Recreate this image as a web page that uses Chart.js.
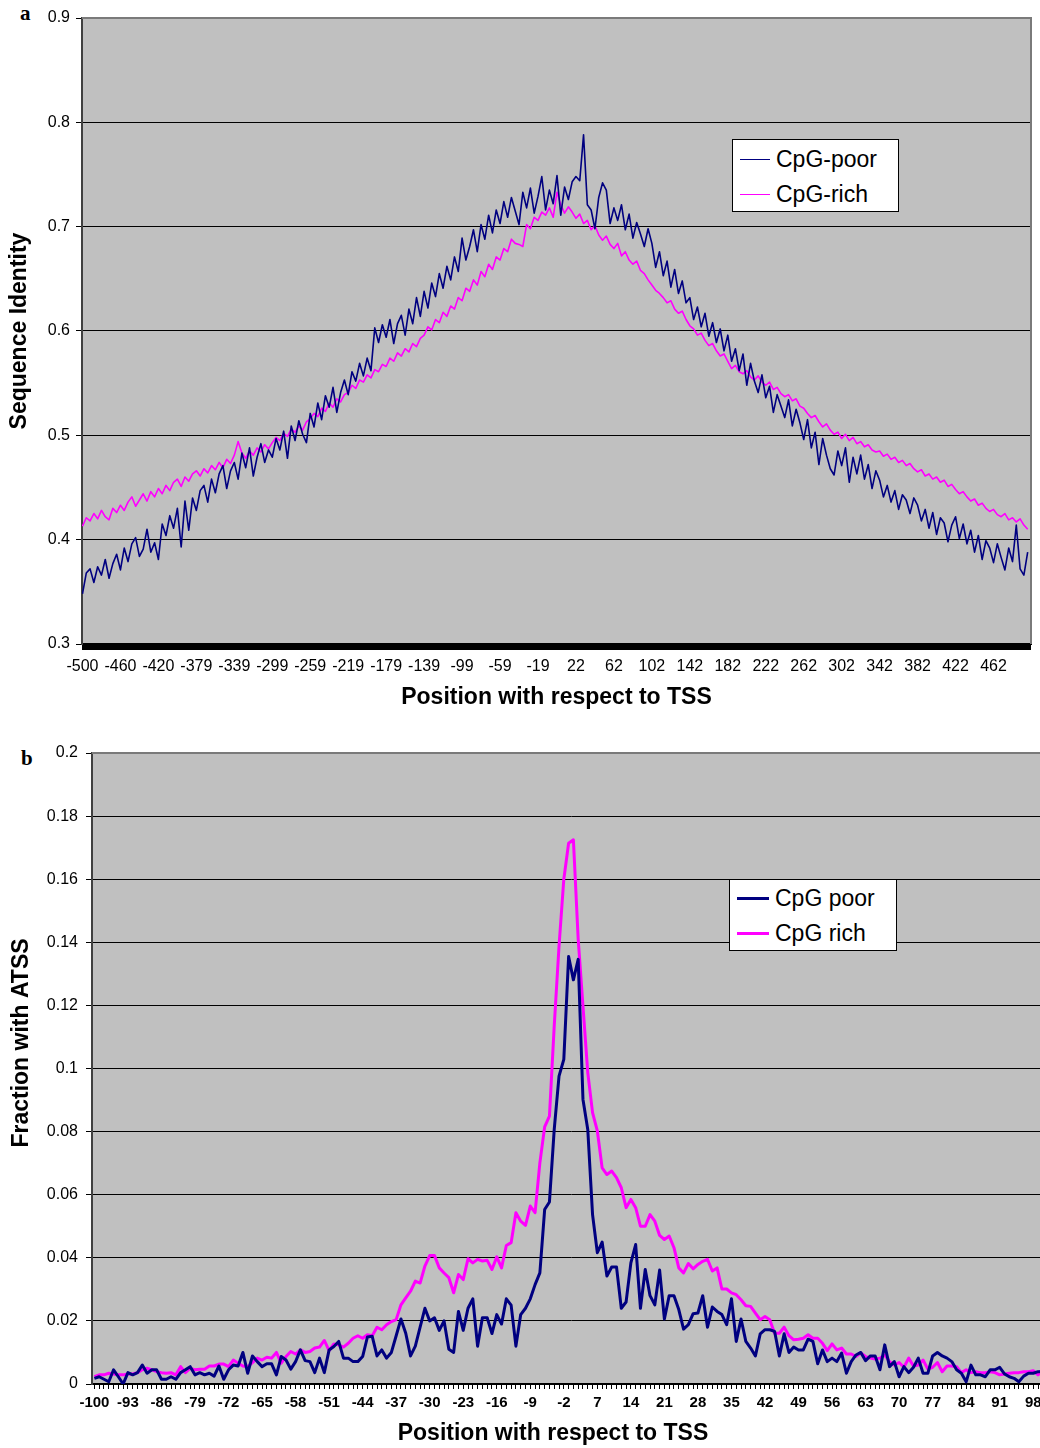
<!DOCTYPE html>
<html>
<head>
<meta charset="utf-8">
<title>Sequence identity and ATSS around the TSS</title>
<script src="https://cdn.jsdelivr.net/npm/chart.js@4.4.1/dist/chart.umd.min.js"></script>
<style>
    html, body { margin: 0; padding: 0; background: #fff; overflow: hidden; }
    body { position: relative; width: 1040px; height: 1448px; }
    canvas { position: absolute; left: 0; }
    #chartA { top: 0; }
    #chartB { top: 735px; }
    .panel-letter { position: absolute; font: bold 21px "Liberation Serif", serif; line-height: 21px; color: #000; }
    .legend { position: absolute; box-sizing: border-box; background: #fff; border: 1px solid #000;
              font: 23px "Liberation Sans", Arial, sans-serif; color: #000; }
    .legend .row { display: flex; align-items: center; height: 35px; }
    .legend .swatch { display: inline-block; margin: 0 6px 0 7px; }
</style>
</head>
<body>
<div class="panel-letter" style="left:20px; top:3px;">a</div>
<div class="panel-letter" style="left:21px; top:748px;">b</div>
<canvas id="chartA" width="1040" height="720"></canvas>
<canvas id="chartB" width="1070" height="713"></canvas>
<div id="legendA" class="legend" style="left:732px; top:139px; width:167px; height:73px; padding-top:2px;"></div>
<div id="legendB" class="legend" style="left:729px; top:879px; width:168px; height:72px; padding-top:1px;"></div>
<script>
// Panel a: 1000 position categories, every 40th one labelled
const ticksA = ['-500', '-460', '-420', '-379', '-339', '-299', '-259', '-219', '-179', '-139', '-99', '-59', '-19',
    '22', '62', '102', '142', '182', '222', '262', '302', '342', '382', '422', '462'];
const stepA = 4;

const poorA = [
    0.348, 0.368, 0.372, 0.359, 0.374, 0.366, 0.381, 0.363, 0.377, 0.386,
    0.371, 0.392, 0.379, 0.396, 0.402, 0.384, 0.391, 0.41, 0.388, 0.397,
    0.381, 0.415, 0.404, 0.423, 0.411, 0.43, 0.393, 0.437, 0.409, 0.44,
    0.428, 0.447, 0.452, 0.436, 0.458, 0.445, 0.463, 0.471, 0.449, 0.466,
    0.474, 0.458, 0.483, 0.469, 0.488, 0.461, 0.479, 0.492, 0.474, 0.486,
    0.479, 0.497, 0.486, 0.504, 0.478, 0.509, 0.495, 0.514, 0.501, 0.493,
    0.521, 0.508, 0.531, 0.515, 0.538, 0.527, 0.546, 0.522, 0.541, 0.553,
    0.539, 0.561, 0.552, 0.569, 0.557, 0.574, 0.562, 0.603, 0.589, 0.606,
    0.594, 0.611, 0.588, 0.607, 0.615, 0.596, 0.621, 0.607, 0.632, 0.614,
    0.638, 0.622, 0.646, 0.633, 0.655, 0.641, 0.662, 0.649, 0.671, 0.657,
    0.689, 0.668, 0.681, 0.697, 0.676, 0.702, 0.688, 0.711, 0.694, 0.716,
    0.703, 0.724, 0.709, 0.728, 0.715, 0.702, 0.733, 0.718, 0.737, 0.713,
    0.729, 0.748, 0.716, 0.735, 0.722, 0.749, 0.711, 0.738, 0.726, 0.743,
    0.748, 0.744, 0.788, 0.721, 0.716, 0.698, 0.728, 0.742, 0.735, 0.703,
    0.718, 0.706, 0.721, 0.697, 0.712, 0.689, 0.704, 0.693, 0.681, 0.698,
    0.684, 0.661, 0.676, 0.653, 0.667, 0.642, 0.659, 0.636, 0.648, 0.627,
    0.632, 0.611, 0.623, 0.604, 0.617, 0.595, 0.608, 0.589, 0.602, 0.581,
    0.596, 0.571, 0.583, 0.562, 0.578, 0.548, 0.569, 0.552, 0.541, 0.558,
    0.536, 0.547, 0.522, 0.539, 0.528, 0.517, 0.534, 0.509, 0.525, 0.512,
    0.496, 0.515, 0.488, 0.503, 0.472, 0.497, 0.481, 0.468, 0.462, 0.485,
    0.471, 0.488, 0.455, 0.479, 0.463, 0.481, 0.458, 0.472, 0.449, 0.466,
    0.457, 0.441, 0.452, 0.436, 0.447, 0.429, 0.443, 0.438, 0.425, 0.44,
    0.433, 0.418, 0.429, 0.411, 0.426, 0.405, 0.421, 0.416, 0.398, 0.414,
    0.422, 0.401, 0.415, 0.396, 0.409, 0.388, 0.404, 0.381, 0.399, 0.392,
    0.378, 0.396, 0.383, 0.371, 0.392, 0.379, 0.414, 0.372, 0.366, 0.388
];

const richA = [
    0.413, 0.421, 0.418, 0.425, 0.42, 0.428, 0.422, 0.419, 0.43, 0.426,
    0.433, 0.428, 0.436, 0.441, 0.432, 0.438, 0.444, 0.437, 0.446, 0.441,
    0.449, 0.444, 0.452, 0.447, 0.455, 0.458, 0.451, 0.46, 0.456, 0.463,
    0.466, 0.461, 0.468, 0.464, 0.471, 0.467, 0.474, 0.469, 0.477, 0.473,
    0.481, 0.494, 0.483, 0.478, 0.485, 0.481, 0.488, 0.484, 0.491, 0.487,
    0.493, 0.498, 0.495, 0.502, 0.499, 0.506, 0.503, 0.509, 0.505, 0.513,
    0.516, 0.521, 0.518, 0.526, 0.523, 0.531, 0.527, 0.535, 0.532, 0.539,
    0.541, 0.548, 0.545, 0.553, 0.551, 0.558, 0.555, 0.563, 0.561, 0.568,
    0.566, 0.574, 0.571, 0.579, 0.576, 0.583, 0.58, 0.588, 0.585, 0.593,
    0.596, 0.604, 0.601, 0.611, 0.608, 0.618, 0.614, 0.624, 0.621, 0.632,
    0.629, 0.641, 0.638, 0.649, 0.644, 0.657, 0.652, 0.664, 0.659, 0.671,
    0.668, 0.679, 0.676, 0.688, 0.684, 0.683, 0.681, 0.702, 0.698, 0.709,
    0.706, 0.714, 0.711, 0.718, 0.709, 0.733, 0.721, 0.713, 0.719, 0.714,
    0.708, 0.712, 0.703, 0.706, 0.697, 0.701, 0.692, 0.687, 0.691, 0.683,
    0.679, 0.684, 0.672, 0.676, 0.668, 0.664, 0.667, 0.658, 0.655, 0.649,
    0.644, 0.639, 0.636, 0.632, 0.627, 0.629, 0.621, 0.617, 0.619, 0.611,
    0.605, 0.602, 0.596, 0.598, 0.591, 0.586, 0.588, 0.581, 0.576, 0.578,
    0.571, 0.564, 0.567, 0.561, 0.559, 0.562, 0.556, 0.553, 0.557, 0.551,
    0.548, 0.551, 0.544, 0.546, 0.54, 0.537, 0.539, 0.533, 0.535, 0.528,
    0.526, 0.521, 0.517, 0.519, 0.513, 0.508, 0.511, 0.505, 0.501, 0.503,
    0.497, 0.501, 0.495, 0.498, 0.492, 0.494, 0.489, 0.491, 0.486, 0.484,
    0.485, 0.48, 0.482, 0.477, 0.479, 0.474, 0.476, 0.471, 0.473, 0.468,
    0.465, 0.467, 0.461, 0.463, 0.458, 0.46, 0.455, 0.457, 0.451, 0.453,
    0.448, 0.444, 0.446, 0.441, 0.437, 0.439, 0.433, 0.435, 0.43, 0.427,
    0.429, 0.424, 0.422, 0.425, 0.419, 0.421, 0.417, 0.42, 0.414, 0.41
];

// Panel b: 200 position categories, every 7th one labelled
const ticksB = ['-100', '-93', '-86', '-79', '-72', '-65', '-58', '-51', '-44', '-37', '-30', '-23', '-16', '-9', '-2',
    '7', '14', '21', '28', '35', '42', '49', '56', '63', '70', '77', '84', '91', '98'];

const poorB = [
    0.0018, 0.0023, 0.0015, 0.0007, 0.0045, 0.0023, 0.0, 0.0036, 0.0029, 0.0036,
    0.006, 0.0034, 0.0045, 0.0045, 0.0015, 0.0015, 0.0023, 0.0015, 0.0036, 0.0045,
    0.0055, 0.0029, 0.0036, 0.0029, 0.0034, 0.0025, 0.0057, 0.0015, 0.0045, 0.006,
    0.0057, 0.01, 0.0034, 0.0089, 0.0071, 0.0055, 0.0064, 0.0064, 0.0029, 0.0087,
    0.0076, 0.0047, 0.0071, 0.0108, 0.0074, 0.0071, 0.0036, 0.0082, 0.0036, 0.0108,
    0.0119, 0.0135, 0.0082, 0.0082, 0.0071, 0.0071, 0.0087, 0.0149, 0.0151, 0.0089,
    0.0108, 0.0082, 0.01, 0.0153, 0.0206, 0.0161, 0.0089, 0.012, 0.018, 0.024,
    0.02, 0.021, 0.017, 0.02, 0.011, 0.01, 0.023, 0.017, 0.024, 0.027,
    0.012, 0.021, 0.021, 0.016, 0.022, 0.019, 0.027, 0.025, 0.012, 0.022,
    0.024, 0.027, 0.0315, 0.0352, 0.0553, 0.0577, 0.0807, 0.0976, 0.1029, 0.1355,
    0.1281, 0.1346, 0.0902, 0.0807, 0.0537, 0.0416, 0.045, 0.0342, 0.0371, 0.0371,
    0.024, 0.026, 0.0384, 0.0442, 0.024, 0.0363, 0.028, 0.0251, 0.0361, 0.0206,
    0.028, 0.028, 0.0236, 0.0174, 0.0188, 0.0223, 0.0225, 0.028, 0.018, 0.0244,
    0.023, 0.022, 0.0188, 0.027, 0.0135, 0.0206, 0.0135, 0.0114, 0.0089, 0.0159,
    0.0172, 0.0172, 0.0167, 0.0089, 0.0159, 0.01, 0.0117, 0.0108, 0.0108, 0.0142,
    0.0135, 0.0064, 0.0108, 0.0071, 0.0082, 0.0071, 0.0098, 0.0034, 0.0071, 0.0092,
    0.01, 0.0074, 0.0089, 0.0089, 0.0045, 0.0124, 0.0055, 0.0071, 0.0023, 0.0055,
    0.0036, 0.0053, 0.0082, 0.0034, 0.0034, 0.0089, 0.01, 0.0089, 0.0082, 0.0071,
    0.0045, 0.0034, 0.0007, 0.006, 0.0029, 0.0029, 0.0023, 0.0045, 0.0045, 0.0053,
    0.0032, 0.0023, 0.0018, 0.0007, 0.0025, 0.0034, 0.0034, 0.0039, 0.004, 0.004
];

const richB = [
    0.0023, 0.0029, 0.0029, 0.0034, 0.0032, 0.0029, 0.0029, 0.0032, 0.0032, 0.0036,
    0.0045, 0.005, 0.0045, 0.0039, 0.0036, 0.0034, 0.0036, 0.0029, 0.0055, 0.0036,
    0.005, 0.0045, 0.0047, 0.0047, 0.0057, 0.0057, 0.0063, 0.0063, 0.0055, 0.0076,
    0.0066, 0.0057, 0.0055, 0.0068, 0.0082, 0.0076, 0.0085, 0.0082, 0.01, 0.0066,
    0.0087, 0.0103, 0.0095, 0.0108, 0.01, 0.0103, 0.0114, 0.0117, 0.0138, 0.0106,
    0.0127, 0.0124, 0.0117, 0.0129, 0.0145, 0.0153, 0.0145, 0.0156, 0.0153, 0.018,
    0.0172, 0.0188, 0.0198, 0.0204, 0.0251, 0.0273, 0.0294, 0.0326, 0.032, 0.0374,
    0.0407, 0.0407, 0.0368, 0.0352, 0.0337, 0.0289, 0.0347, 0.0331, 0.0397, 0.0384,
    0.0395, 0.039, 0.0392, 0.0363, 0.0403, 0.0368, 0.0439, 0.0448, 0.0543, 0.0516,
    0.0503, 0.0564, 0.0543, 0.0701, 0.0815, 0.0849, 0.1135, 0.1388, 0.16, 0.1714,
    0.1725, 0.141, 0.1198, 0.0987, 0.086, 0.0802, 0.0685, 0.0664, 0.0675, 0.0654,
    0.0622, 0.0559, 0.0585, 0.0559, 0.05, 0.05, 0.0537, 0.0516, 0.0471, 0.0458,
    0.0469, 0.0432, 0.0368, 0.0352, 0.0382, 0.0365, 0.0379, 0.0389, 0.0395, 0.0358,
    0.0368, 0.0301, 0.0301, 0.0289, 0.0283, 0.0267, 0.0248, 0.0246, 0.0225, 0.0204,
    0.0214, 0.0204, 0.0161, 0.0161, 0.018, 0.0153, 0.014, 0.0142, 0.0145, 0.0156,
    0.0145, 0.0145, 0.0129, 0.0106, 0.0127, 0.0108, 0.0114, 0.0095, 0.0095, 0.0087,
    0.0098, 0.0087, 0.0082, 0.0079, 0.0082, 0.0092, 0.0071, 0.006, 0.0068, 0.0053,
    0.0082, 0.0057, 0.006, 0.0076, 0.0047, 0.0053, 0.0068, 0.0039, 0.0057, 0.0057,
    0.0055, 0.0036, 0.0045, 0.0036, 0.0039, 0.0036, 0.0036, 0.0039, 0.0036, 0.0029,
    0.0032, 0.0034, 0.0036, 0.0036, 0.0039, 0.0039, 0.0042, 0.0029, 0.004, 0.004
];

const sans = '"Liberation Sans", Arial, sans-serif';

document.addEventListener('DOMContentLoaded', function() {

    // grey plot area, with a frame along top and right
    const plotFrame = {
        id: 'plotFrame',
        beforeDraw: function(chart) {
            const a = chart.chartArea;
            const ctx = chart.ctx;
            ctx.save();
            ctx.fillStyle = '#c0c0c0';
            ctx.fillRect(a.left, a.top, a.right - a.left, a.bottom - a.top);
            ctx.restore();
        },
        afterDraw: function(chart) {
            const a = chart.chartArea;
            const ctx = chart.ctx;
            ctx.save();
            ctx.strokeStyle = '#7a7a7a';
            ctx.lineWidth = 2;
            ctx.beginPath();
            ctx.moveTo(a.left, a.top);
            ctx.lineTo(a.right, a.top);
            ctx.lineTo(a.right, a.bottom);
            ctx.stroke();
            ctx.restore();
        }
    };

    // panel b axis titles sit off the plot centre in the original, so draw them here
    const titlesB = {
        id: 'titlesB',
        afterDraw: function(chart) {
            const ctx = chart.ctx;
            ctx.save();
            ctx.fillStyle = '#000';
            ctx.font = 'bold 23px ' + sans;
            ctx.textAlign = 'center';
            ctx.textBaseline = 'middle';
            ctx.fillText('Position with respect to TSS', 553, 699);
            ctx.translate(22, 308);
            ctx.rotate(-Math.PI / 2);
            ctx.fillText('Fraction with ATSS', 0, 0);
            ctx.restore();
        }
    };

    // one tick mark per category
    function everyCategory(count) {
        return function(scale) {
            const ticks = [];
            for (let i = 0; i < count; i++) ticks.push({ value: i });
            scale.ticks = ticks;
        };
    }

    function toPoints(values, step) {
        return values.map(function(v, i) { return { x: i * step, y: v }; });
    }

    function buildLegend(chart, id) {
        const box = document.getElementById(id);
        chart.data.datasets.forEach(function(ds) {
            const row = document.createElement('div');
            row.className = 'row';
            const swatch = document.createElement('span');
            swatch.className = 'swatch';
            swatch.style.width = (id === 'legendA' ? 30 : 32) + 'px';
            swatch.style.borderTop = ds.borderWidth + 'px solid ' + ds.borderColor;
            const text = document.createElement('span');
            text.textContent = ds.label;
            row.appendChild(swatch);
            row.appendChild(text);
            box.appendChild(row);
        });
    }

    // Common chart options
    const chartOptions = {
        responsive: false,
        animation: false,
        events: [],
        plugins: {
            legend: { display: false },
            tooltip: { enabled: false }
        },
        elements: {
            point: { radius: 0 },
            line: { tension: 0, borderJoinStyle: 'round', fill: false }
        }
    };

    // Panel a: sequence identity
    const chartA = new Chart(
        document.getElementById('chartA'),
        {
            type: 'line',
            data: {
                datasets: [
                    {
                        label: 'CpG-poor',
                        data: toPoints(poorA, stepA),
                        borderColor: '#000080',
                        borderWidth: 1.6
                    },
                    {
                        label: 'CpG-rich',
                        data: toPoints(richA, stepA),
                        borderColor: '#ff00ff',
                        borderWidth: 1.6
                    }
                ]
            },
            options: {
                ...chartOptions,
                layout: { padding: { top: 18, right: 9, left: 0, bottom: 0 } },
                scales: {
                    x: {
                        type: 'linear',
                        min: -0.5,
                        max: 999.5,
                        afterBuildTicks: everyCategory(1000),
                        afterFit: function(scale) { scale.height = 76; },
                        grid: { drawOnChartArea: false, tickLength: 6, tickColor: '#000' },
                        border: { color: '#000', width: 2 },
                        ticks: {
                            autoSkip: false,
                            maxRotation: 0,
                            minRotation: 0,
                            padding: 7,
                            color: '#000',
                            font: { family: sans, size: 16 },
                            callback: function(value) {
                                return value % 40 === 0 ? ticksA[value / 40] : '';
                            }
                        },
                        title: {
                            display: true,
                            text: 'Position with respect to TSS',
                            color: '#000',
                            font: { family: sans, size: 23, weight: 'bold' },
                            padding: { top: 0, bottom: 9 }
                        }
                    },
                    y: {
                        min: 0.3,
                        max: 0.9,
                        afterFit: function(scale) { scale.width = 82; },
                        grid: { color: '#000', tickLength: 6, tickColor: '#000' },
                        border: { color: '#404040', width: 2 },
                        ticks: {
                            stepSize: 0.1,
                            padding: 6,
                            color: '#000',
                            font: { family: sans, size: 16 }
                        },
                        title: {
                            display: true,
                            text: 'Sequence Identity',
                            color: '#000',
                            font: { family: sans, size: 23, weight: 'bold' },
                            padding: { top: 6, bottom: 0 }
                        }
                    }
                }
            },
            plugins: [plotFrame]
        }
    );

    // Panel b: fraction with ATSS
    const chartB = new Chart(
        document.getElementById('chartB'),
        {
            type: 'line',
            data: {
                datasets: [
                    {
                        label: 'CpG poor',
                        data: toPoints(poorB, 1),
                        borderColor: '#000080',
                        borderWidth: 3
                    },
                    {
                        label: 'CpG rich',
                        data: toPoints(richB, 1),
                        borderColor: '#ff00ff',
                        borderWidth: 3
                    }
                ]
            },
            options: {
                ...chartOptions,
                layout: { padding: { top: 18, right: 20, left: 0, bottom: 0 } },
                scales: {
                    x: {
                        type: 'linear',
                        min: -0.5,
                        max: 199.5,
                        afterBuildTicks: everyCategory(200),
                        afterFit: function(scale) { scale.height = 64; },
                        grid: { drawOnChartArea: false, tickLength: 5, tickColor: '#000' },
                        border: { color: '#000', width: 2 },
                        ticks: {
                            autoSkip: false,
                            maxRotation: 0,
                            minRotation: 0,
                            padding: 5,
                            color: '#000',
                            font: { family: sans, size: 15, weight: 'bold' },
                            callback: function(value) {
                                return value % 7 === 0 ? ticksB[value / 7] : '';
                            }
                        }
                    },
                    y: {
                        min: 0,
                        max: 0.2,
                        afterFit: function(scale) { scale.width = 92; },
                        grid: { color: '#000', tickLength: 6, tickColor: '#000' },
                        border: { color: '#404040', width: 2 },
                        ticks: {
                            stepSize: 0.02,
                            padding: 8,
                            color: '#000',
                            font: { family: sans, size: 16 },
                            callback: function(value) {
                                return String(Number(value.toFixed(2)));
                            }
                        }
                    }
                }
            },
            plugins: [plotFrame, titlesB]
        }
    );

    buildLegend(chartA, 'legendA');
    buildLegend(chartB, 'legendB');
});
</script>
</body>
</html>
